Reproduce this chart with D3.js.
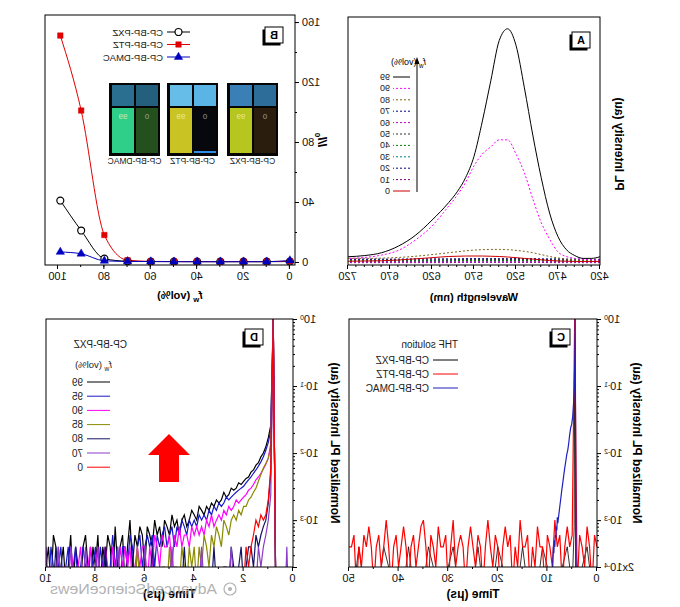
<!DOCTYPE html>
<html>
<head>
<meta charset="utf-8">
<script src="https://cdn.jsdelivr.net/npm/d3@7"></script>
<style>
  body { margin: 0; background: #fff; }
  svg { display: block; font-family: "Liberation Sans", Arial, sans-serif; }
</style>
</head>
<body>
<svg id="fig" width="680" height="607"></svg>
<script>
// ---------- panel A : PL spectra of CP-BP-PXZ in THF/water ----------
const A_WL = [420, 430, 440, 450, 460, 470, 480, 490, 500, 510, 520, 530, 540, 550, 560, 570, 580, 590, 600, 620, 640, 660, 680, 700, 720];
const A_99 = [0.035, 0.028, 0.028, 0.04, 0.065, 0.12, 0.22, 0.37, 0.55, 0.75, 0.93, 1.0, 0.95, 0.78, 0.61, 0.46, 0.37, 0.31, 0.265, 0.19, 0.125, 0.08, 0.052, 0.04, 0.035];
const A_90 = [0.021, 0.022, 0.024, 0.028, 0.036, 0.055, 0.11, 0.18, 0.28, 0.39, 0.47, 0.53, 0.53, 0.5, 0.47, 0.42, 0.35, 0.295, 0.25, 0.165, 0.105, 0.062, 0.042, 0.032, 0.028];
const A_80 = [0.02, 0.02, 0.021, 0.022, 0.025, 0.03, 0.036, 0.044, 0.052, 0.058, 0.062, 0.065, 0.066, 0.066, 0.065, 0.063, 0.06, 0.056, 0.052, 0.044, 0.037, 0.032, 0.029, 0.028, 0.028];
const A_70 = [0.024, 0.024, 0.025, 0.025, 0.025, 0.026, 0.026, 0.026, 0.027, 0.027, 0.027, 0.027, 0.027, 0.027, 0.027, 0.027, 0.027, 0.026, 0.026, 0.026, 0.026, 0.025, 0.025, 0.025, 0.025];
const A_60 = [0.012, 0.012, 0.012, 0.012, 0.012, 0.012, 0.013, 0.013, 0.013, 0.013, 0.013, 0.013, 0.013, 0.013, 0.013, 0.013, 0.013, 0.013, 0.013, 0.012, 0.012, 0.012, 0.012, 0.012, 0.012];
const A_50 = [0.022, 0.022, 0.022, 0.022, 0.022, 0.022, 0.023, 0.023, 0.023, 0.023, 0.023, 0.023, 0.023, 0.023, 0.023, 0.023, 0.023, 0.023, 0.022, 0.022, 0.022, 0.022, 0.022, 0.022, 0.022];
const A_40 = [0.018, 0.018, 0.018, 0.018, 0.018, 0.018, 0.018, 0.019, 0.019, 0.019, 0.019, 0.019, 0.019, 0.019, 0.019, 0.019, 0.019, 0.019, 0.018, 0.018, 0.018, 0.018, 0.018, 0.018, 0.018];
const A_30 = [0.02, 0.02, 0.02, 0.02, 0.02, 0.02, 0.02, 0.021, 0.021, 0.021, 0.021, 0.021, 0.021, 0.021, 0.021, 0.021, 0.021, 0.021, 0.02, 0.02, 0.02, 0.02, 0.02, 0.02, 0.02];
const A_20 = [0.016, 0.016, 0.016, 0.016, 0.016, 0.016, 0.016, 0.017, 0.017, 0.017, 0.017, 0.017, 0.017, 0.017, 0.017, 0.017, 0.017, 0.017, 0.016, 0.016, 0.016, 0.016, 0.016, 0.016, 0.016];
const A_10 = [0.01, 0.01, 0.01, 0.01, 0.01, 0.01, 0.01, 0.011, 0.011, 0.011, 0.011, 0.011, 0.011, 0.011, 0.011, 0.011, 0.011, 0.011, 0.01, 0.01, 0.01, 0.01, 0.01, 0.01, 0.01];
const A_0 = [0.015, 0.015, 0.015, 0.015, 0.016, 0.017, 0.019, 0.022, 0.025, 0.028, 0.031, 0.034, 0.036, 0.037, 0.038, 0.038, 0.038, 0.037, 0.036, 0.031, 0.026, 0.021, 0.018, 0.017, 0.016];
const A_LEGEND = ['99', '90', '80', '70', '60', '50', '40', '30', '20', '10', '0'];
const A_VALUES = { 99: A_99, 90: A_90, 80: A_80, 70: A_70, 60: A_60, 50: A_50, 40: A_40, 30: A_30, 20: A_20, 10: A_10, 0: A_0 };
const A_TICKS = [420, 470, 520, 570, 620, 670, 720];

// ---------- panel B : I/I0 versus water fraction ----------
const FW = [0, 10, 20, 30, 40, 50, 60, 70, 80, 90, 99];
const B_PXZ = [0.3, 0.2, 0.2, 0.2, 0.2, 0.3, 0.3, 0.5, 2.2, 21, 41];
const B_PTZ = [0.5, 0.3, 0.3, 0.3, 0.3, 0.3, 0.4, 1.2, 18, 101, 151];
const B_DMAC = [1.0, 0.2, 0.2, 0.2, 0.2, 0.2, 0.3, 0.4, 0.8, 5.5, 6.7];
const B_NAMES = ['CP-BP-PXZ', 'CP-BP-PTZ', 'CP-BP-DMAC'];
const B_XTICKS = [0, 20, 40, 60, 80, 100];
const B_YTICKS = [0, 40, 80, 120, 160];

// ---------- panel C : transient PL in THF (counts, 1 count = 2e-4) ----------
const COUNT_UNIT = 2e-4;
const C_DT = 0.5;
const C_PTZ = [2, 3, 0, 2, 4, 1, 2, 3, 0, 5000,
  3, 2, 4, 2, 0, 3, 2, 5, 1, 2,
  3, 0, 2, 2, 4, 1, 2, 0, 3, 2,
  2, 5, 1, 2, 0, 3, 2, 4, 2, 0,
  2, 3, 1, 2, 5, 2, 0, 2, 3, 1,
  2, 4, 2, 0, 2, 3, 2, 1, 5, 2,
  0, 3, 2, 2, 4, 1, 2, 3, 0, 2,
  5, 4, 2, 1, 3, 2, 0, 2, 4, 2,
  1, 3, 2, 0, 2, 5, 2, 1, 3, 2,
  0, 2, 4, 2, 3, 1, 2, 0, 3, 2, 2];
const C_PXZ_NOISE = [1, 0, 2, 1, 0, 0, 2, 1, 0, 0, 1, 2, 0, 1, 0, 2, 0, 1, 0, 1, 2, 0, 1, 0, 2, 0,
  1, 0, 0, 2, 1, 0, 0, 1, 2, 0, 1, 0, 2, 0, 1, 0, 1, 2, 0, 0, 1, 0, 2, 0, 1];
const C_PXZ_PEAK_T = [4.3, 4.5, 4.6];
const C_PXZ_PEAK = [0, 5000, 4];
const C_DMAC_T = [4.2, 4.4, 4.5, 4.6, 4.7, 4.9, 5.1, 5.3, 5.5, 5.7, 5.9, 6.1, 6.3, 6.5, 6.7, 6.9, 7.1, 7.3, 7.5, 7.7, 7.9, 8.0, 8.1, 8.2, 8.3, 8.4, 8.5, 8.6, 8.7, 8.8, 8.9, 9.0];
const C_DMAC = [0, 1.0, 0.2, 0.09, 0.06, 0.035, 0.027, 0.024, 0.019, 0.014, 0.011, 0.0095, 0.0075, 0.006, 0.0047, 0.0036, 0.0028, 0.0021, 0.0016, 0.0012, 0.0009, 0.0011, 0.0007, 0.0008, 0.00055, 0.0006, 0.0004, 0.0005, 0.00032, 0.0004, 0.00026, 0];
const C_NAMES = ['CP-BP-PXZ', 'CP-BP-PTZ', 'CP-BP-DMAC'];

// ---------- panel D : transient PL of CP-BP-PXZ aggregates (counts from 0.7 us, 0.1 us channels) ----------
const D_T0 = 0.7;
const D_DT = 0.1;
const D_99 = [0, 5000, 130,
  85, 62, 50, 44, 36, 33, 28, 26, 22, 21,
  19, 17, 18, 15, 14, 15, 12, 11, 13, 10,
  9, 10, 8, 9, 7, 8, 6, 7, 8, 5,
  6, 7, 5, 4, 6, 5, 3, 5, 4, 6,
  3, 4, 5, 2, 4, 3, 5, 2, 3, 4,
  1, 3, 4, 2, 3, 1, 5, 2, 0, 3,
  2, 1, 4, 0, 2, 3, 1, 2, 0, 3,
  1, 2, 0, 1, 3, 2, 0, 1, 2, 0,
  3, 1, 0, 2, 1, 0, 2, 3, 0, 2,
  1];
const D_95 = [0, 5000, 110,
  72, 55, 44, 37, 32, 28, 25, 22, 20, 18,
  16, 15, 14, 13, 12, 11, 10, 11, 9, 8,
  9, 7, 8, 6, 7, 5, 6, 5, 6, 4,
  5, 4, 5, 3, 4, 5, 3, 4, 2, 4,
  3, 2, 4, 3, 2, 3, 1, 3, 2, 3,
  2, 1, 3, 2, 0, 2, 3, 1, 2, 2,
  0, 2, 1, 3, 1, 0, 2, 1, 2, 0,
  2, 1, 2, 0, 1, 2, 1, 0, 2, 1,
  0, 2, 1, 0, 2, 1, 0, 1, 2, 0,
  1];
const D_90 = [0, 5000, 70,
  42, 34, 29, 25, 22, 20, 17, 15, 14, 12,
  11, 10, 9, 10, 8, 7, 8, 6, 7, 5,
  6, 5, 4, 6, 4, 5, 3, 4, 3, 4,
  3, 4, 2, 3, 3, 2, 4, 2, 3, 1,
  3, 2, 2, 3, 1, 2, 3, 1, 2, 0,
  2, 2, 1, 2, 1, 0, 2, 1, 2, 1,
  2, 0, 1, 2, 0, 1, 2, 1, 0, 2,
  1, 0, 2, 1, 1, 0, 2, 1, 0, 1,
  2, 0, 1, 1, 0, 2, 1, 0, 1, 1,
  0];
const D_85 = [0, 5000, 60,
  42, 35, 30, 24, 19, 15, 13, 11, 10, 8,
  8, 6, 7, 5, 6, 5, 3, 4, 5, 2,
  3, 4, 2, 3, 1, 2, 3, 1, 2, 0,
  2, 1, 2, 0, 1, 2, 0, 1, 1, 0,
  2, 0, 1, 1, 0, 1, 0, 1, 0, 1,
  0, 1, 0, 2, 0, 1, 0, 0, 1, 0,
  1, 0, 0, 1, 0, 1, 0, 0, 1, 0,
  0, 1, 0, 1, 0, 0, 1, 0, 0, 1,
  0, 0, 1, 0, 1, 0, 0, 1, 0, 0,
  1];
const D_80 = [0, 5000, 25,
  9, 5, 4, 3, 2, 3, 1, 2, 2, 1,
  0, 2, 1, 0, 1, 2, 0, 1, 1, 0,
  1, 0, 2, 0, 1, 0, 1, 0, 0, 1,
  0, 1, 0, 0, 2, 0, 1, 0, 0, 1,
  0, 0, 1, 0, 1, 0, 0, 2, 0, 0,
  1, 0, 0, 1, 0, 0, 1, 0, 1, 0,
  0, 1, 0, 0, 1, 0, 2, 0, 0, 1,
  0, 0, 1, 0, 0, 1, 0, 0, 1, 0,
  1, 0, 0, 1, 0, 0, 2, 0, 0, 1,
  0];
const D_70 = [0, 5000, 12,
  5, 3, 2, 1, 2, 0, 1, 0, 1, 0,
  1, 0, 0, 1, 0, 2, 0, 0, 1, 0,
  0, 1, 0, 0, 1, 0, 0, 2, 0, 0,
  1, 0, 0, 1, 0, 0, 1, 0, 0, 2,
  0, 0, 1, 0, 0, 1, 0, 0, 1, 0,
  2, 0, 0, 1, 0, 0, 1, 0, 0, 1,
  0, 2, 0, 0, 1, 0, 0, 1, 0, 2,
  0, 0, 1, 0, 2, 0, 0, 1, 0, 0,
  2, 0, 1, 0, 0, 2, 0, 0, 1, 0,
  2];
const D_0 = [0, 5000, 30,
  10, 6, 5, 6, 4, 5, 3, 2, 1, 2,
  0, 1, 0, 0, 1, 0, 0, 0, 1, 0,
  0, 0, 1, 0, 0, 0, 0, 1, 0, 0,
  0, 0, 0, 1, 0, 0, 0, 0, 0, 0,
  1, 0, 0, 0, 0, 0, 0, 1, 0, 0,
  0, 0, 0, 0, 1, 0, 0, 0, 0, 0,
  0, 1, 0, 0, 0, 0, 0, 0, 0, 0,
  0, 0, 0, 1, 0, 0, 0, 0, 0, 0,
  0, 0, 0, 0, 1, 0, 0, 0, 0, 0,
  0];
// a lone 70 vol% spike before the pulse
const D_70_PRE_T = [0.2, 0.25, 0.3];
const D_70_PRE = [0, 2, 0];
const D_LEGEND = ['99', '95', '90', '85', '80', '70', '0'];
const D_VALUES = { 99: D_99, 95: D_95, 90: D_90, 85: D_85, 80: D_80, 70: D_70, 0: D_0 };

// ---------- styles ----------
const A_STYLE = {
  99: ['#000000', null], 90: ['#ff00ff', '2,2'], 80: ['#7a6418', '2,2'], 70: ['#000080', '2,2'],
  60: ['#c000c0', '2,2'], 50: ['#303030', '2,2'], 40: ['#008000', '2,2'], 30: ['#008080', '2,2'],
  20: ['#000080', '2,2'], 10: ['#800080', '2,2'], 0: ['#cc0000', null],
};
const B_COLOR = ['#000000', '#e00000', '#0000c0'];
const C_COLOR = ['#000000', '#ff0000', '#2020c0'];
const D_COLOR = { 99: '#000000', 95: '#1818c8', 90: '#ff00ff', 85: '#8b8b00', 80: '#141464', 70: '#8a3cc8', 0: '#ff0000' };

const FLOOR = 1e-4; // zero counts fall below the log axis and get clipped

const svg = d3.select('#fig');
svg.append('rect').attr('width', 680).attr('height', 607).attr('fill', '#fff');

// the reference figure is mirrored left-right, so draw it normally and flip the lot
const root = svg.append('g').attr('transform', 'translate(680,0) scale(-1,1)');

const PA = { x0: 80, x1: 332, y0: 17, y1: 265 };
const PB = { x0: 385, x1: 635, y0: 15, y1: 265 };
const PC = { x0: 83, x1: 331, y0: 319, y1: 567 };
const PD = { x0: 387, x1: 634, y0: 319, y1: 567 };

const styleAxis = (g, size) => {
  g.attr('font-family', null).attr('font-size', size || 11);
  g.select('.domain').remove();
  g.selectAll('line').attr('stroke', '#000');
  g.selectAll('text').attr('fill', '#111');
};

const frame = (p) => {
  root.append('rect')
    .attr('x', p.x0).attr('y', p.y0)
    .attr('width', p.x1 - p.x0).attr('height', p.y1 - p.y0)
    .attr('fill', 'none').attr('stroke', '#000').attr('stroke-width', 1);
};

const clip = (id, p) => {
  svg.append('clipPath').attr('id', id).append('rect')
    .attr('x', p.x0).attr('y', p.y0)
    .attr('width', p.x1 - p.x0).attr('height', p.y1 - p.y0);
  return root.append('g').attr('clip-path', `url(#${id})`);
};

const labelBox = (x, y, txt) => {
  root.append('rect').attr('x', x + 2.5).attr('y', y + 2.5).attr('width', 18).attr('height', 16).attr('fill', '#000');
  root.append('rect').attr('x', x).attr('y', y).attr('width', 18).attr('height', 16)
    .attr('fill', '#fff').attr('stroke', '#000').attr('stroke-width', 1);
  root.append('text').attr('x', x + 9).attr('y', y + 12).attr('text-anchor', 'middle')
    .attr('font-size', 11).attr('font-weight', 'bold').text(txt);
};

const yTitle = (x, y, build) => {
  const t = root.append('text').attr('transform', `translate(${x},${y}) rotate(-90)`)
    .attr('text-anchor', 'middle').attr('font-size', 12).attr('font-weight', 'bold');
  build(t);
};

const fwText = (t, size) => {
  t.append('tspan').attr('font-style', 'italic').text('f');
  t.append('tspan').attr('font-size', size * 0.7).attr('dy', 3).text('w');
  t.append('tspan').attr('dy', -3).text(' (vol%)');
};

// ===================== panel A =====================
const xA = d3.scaleLinear().domain([420, 720]).range([PA.x0, PA.x1]);
const yA = d3.scaleLinear().domain([0, 1.05]).range([PA.y1, PA.y0]);

root.append('g').attr('transform', `translate(0,${PA.y1})`)
  .call(d3.axisBottom(xA).tickValues(d3.range(420, 721, 10)).tickSize(2).tickFormat(''))
  .call((g) => styleAxis(g));
root.append('g').attr('transform', `translate(0,${PA.y1})`)
  .call(d3.axisBottom(xA).tickValues(A_TICKS).tickSize(4).tickPadding(3).tickFormat(d3.format('d')))
  .call((g) => styleAxis(g));

const gA = clip('clipA', PA);
const lineA = d3.line().x((d, i) => xA(A_WL[i])).y((d) => yA(d)).curve(d3.curveMonotoneX);
['10', '20', '30', '40', '50', '60', '70', '0', '80', '90', '99'].forEach((k) => {
  gA.append('path').datum(A_VALUES[k])
    .attr('d', lineA).attr('fill', 'none')
    .attr('stroke', A_STYLE[k][0]).attr('stroke-width', 1)
    .attr('stroke-dasharray', A_STYLE[k][1]);
});
frame(PA);
labelBox(90, 32, 'A');

root.append('text').attr('x', (PA.x0 + PA.x1) / 2).attr('y', 301).attr('text-anchor', 'middle')
  .attr('font-size', 11).attr('font-weight', 'bold').text('Wavelength (nm)');
yTitle(65, 144, (t) => t.text('PL Intensity (au)'));

// legend A
const legA = root.append('g');
fwText(legA.append('text').attr('x', 254).attr('y', 65).attr('font-size', 9), 9);
A_LEGEND.forEach((k, i) => {
  const y = 77 + i * 11.4;
  legA.append('line').attr('x1', 270).attr('x2', 287).attr('y1', y).attr('y2', y)
    .attr('stroke', A_STYLE[k][0]).attr('stroke-dasharray', A_STYLE[k][1]);
  legA.append('text').attr('x', 290).attr('y', y + 3).attr('font-size', 9).attr('fill', '#222').text(k);
});
legA.append('line').attr('x1', 263).attr('x2', 263).attr('y1', 192).attr('y2', 62).attr('stroke', '#000');
legA.append('path').attr('d', 'M260.5,64 L263,57 L265.5,64 Z').attr('fill', '#000');

// ===================== panel B =====================
const xB = d3.scaleLinear().domain([-2.2, 105.6]).range([PB.x0, PB.x1]);
const yB = d3.scaleLinear().domain([-2, 164.7]).range([PB.y1, PB.y0]);

root.append('g').attr('transform', `translate(0,${PB.y1})`)
  .call(d3.axisBottom(xB).tickValues(d3.range(0, 101, 10)).tickSize(2).tickFormat(''))
  .call((g) => styleAxis(g));
root.append('g').attr('transform', `translate(0,${PB.y1})`)
  .call(d3.axisBottom(xB).tickValues(B_XTICKS).tickSize(4).tickPadding(3))
  .call((g) => styleAxis(g));
root.append('g').attr('transform', `translate(${PB.x0},0)`)
  .call(d3.axisLeft(yB).tickValues(d3.range(0, 161, 20)).tickSize(2).tickFormat(''))
  .call((g) => styleAxis(g));
root.append('g').attr('transform', `translate(${PB.x0},0)`)
  .call(d3.axisLeft(yB).tickValues(B_YTICKS).tickSize(4).tickPadding(3))
  .call((g) => styleAxis(g));

// inset photo of the vials (0 and 99 vol% water, under UV)
const VIALS = [
  { x: 402, cap: ['#2d6d9a', '#3a7fb6'], body: ['#2a1d0e', '#b7c51f'] },
  { x: 462, cap: ['#5ab4e6', '#66bde8'], body: ['#07080e', '#c9c424'] },
  { x: 520, cap: ['#24607e', '#2b6f90'], body: ['#24501e', '#2fcf8a'] },
];
const gPhoto = root.append('g');
VIALS.forEach((v, i) => {
  gPhoto.append('rect').attr('x', v.x).attr('y', 83).attr('width', 51).attr('height', 73).attr('fill', '#050505');
  [0, 1].forEach((j) => {
    const vx = v.x + 2 + j * 24;
    gPhoto.append('rect').attr('x', vx).attr('y', 85).attr('width', 22).attr('height', 21).attr('fill', v.cap[j]);
    gPhoto.append('rect').attr('x', vx).attr('y', 108).attr('width', 22).attr('height', 45).attr('fill', v.body[j]);
    gPhoto.append('text').attr('x', vx + 11).attr('y', 119).attr('text-anchor', 'middle')
      .attr('font-size', 8).attr('fill', j === 0 ? '#bbbbbb' : '#f4f4c8').attr('opacity', 0.8)
      .text(j === 0 ? '0' : '99');
  });
  gPhoto.append('text').attr('x', v.x + 25.5).attr('y', 164).attr('text-anchor', 'middle')
    .attr('font-size', 8.5).attr('fill', '#222').text(B_NAMES[i]);
});
// blue glow at the bottom of the PTZ 0 vial
gPhoto.append('rect').attr('x', 464).attr('y', 151).attr('width', 22).attr('height', 2).attr('fill', '#2f8fe8');

const gB = clip('clipB', PB);
const lineB = d3.line().x((d, i) => xB(FW[i])).y((d) => yB(d)).curve(d3.curveMonotoneX);
const B_SERIES = [B_PXZ, B_PTZ, B_DMAC];
const symbolB = [d3.symbolCircle, d3.symbolSquare, d3.symbolTriangle];
B_SERIES.forEach((vals, s) => {
  gB.append('path').datum(vals).attr('d', lineB).attr('fill', 'none')
    .attr('stroke', B_COLOR[s]).attr('stroke-width', 1);
});
B_SERIES.forEach((vals, s) => {
  gB.selectAll(null).data(vals).enter().append('path')
    .attr('transform', (d, i) => `translate(${xB(FW[i])},${yB(d)})`)
    .attr('d', d3.symbol().type(symbolB[s]).size(s === 0 ? 38 : 30))
    .attr('fill', s === 0 ? '#fff' : B_COLOR[s])
    .attr('stroke', B_COLOR[s]).attr('stroke-width', s === 0 ? 1.2 : 0.5);
});
frame(PB);
labelBox(397, 27, 'B');

const legB = root.append('g');
B_NAMES.forEach((name, s) => {
  const y = 32 + s * 12.5;
  legB.append('line').attr('x1', 490).attr('x2', 513).attr('y1', y).attr('y2', y).attr('stroke', B_COLOR[s]);
  legB.append('path').attr('transform', `translate(501.5,${y})`)
    .attr('d', d3.symbol().type(symbolB[s]).size(s === 0 ? 38 : 30))
    .attr('fill', s === 0 ? '#fff' : B_COLOR[s]).attr('stroke', B_COLOR[s]).attr('stroke-width', s === 0 ? 1.2 : 0.5);
  legB.append('text').attr('x', 517).attr('y', y + 3.5).attr('font-size', 9.5).attr('fill', '#222').text(name);
});

fwText(root.append('text').attr('x', 500).attr('y', 299).attr('text-anchor', 'middle')
  .attr('font-size', 11).attr('font-weight', 'bold'), 11);
yTitle(362, 140, (t) => {
  t.append('tspan').attr('font-style', 'italic').text('I/I');
  t.append('tspan').attr('font-size', 8).attr('dy', 3).text('0');
});

// ===================== log axis helpers =====================
const LOG_MAJOR = [2e-4, 1e-3, 1e-2, 1e-1, 1];
const LOG_MINOR = [];
[1e-4, 1e-3, 1e-2, 1e-1].forEach((dec) => {
  [2, 3, 4, 5, 6, 7, 8, 9].forEach((m) => {
    const v = dec * m;
    if (v > 2.01e-4 && v < 1) LOG_MINOR.push(v);
  });
});

const supLabels = (g, withBottom) => {
  g.selectAll('.tick text').each(function (d) {
    const t = d3.select(this).text('');
    const e = Math.round(Math.log10(d));
    const m = d / (10 ** e);
    if (Math.abs(m - 1) > 1e-6) {
      if (!withBottom) { t.remove(); return; }
      t.append('tspan').text(`${Math.round(m)}x10`);
    } else {
      t.append('tspan').text('10');
    }
    t.append('tspan').attr('font-size', 7).attr('dy', '-0.5em').text(`${e}`);
  });
};

const logAxes = (p, x, y, majorX, minorX, withBottom) => {
  root.append('g').attr('transform', `translate(0,${p.y1})`)
    .call(d3.axisBottom(x).tickValues(minorX).tickSize(2).tickFormat(''))
    .call((g) => styleAxis(g));
  root.append('g').attr('transform', `translate(0,${p.y1})`)
    .call(d3.axisBottom(x).tickValues(majorX).tickSize(4).tickPadding(3))
    .call((g) => styleAxis(g));
  root.append('g').attr('transform', `translate(${p.x0},0)`)
    .call(d3.axisLeft(y).tickValues(LOG_MINOR).tickSize(2).tickFormat(''))
    .call((g) => styleAxis(g));
  root.append('g').attr('transform', `translate(${p.x0},0)`)
    .call(d3.axisLeft(y).tickValues(LOG_MAJOR).tickSize(4).tickPadding(3))
    .call((g) => styleAxis(g))
    .call((g) => supLabels(g, withBottom));
};

const toVal = (c) => (c > 0 ? c * COUNT_UNIT : FLOOR);

// ===================== panel C =====================
const xC = d3.scaleLinear().domain([0, 50]).range([PC.x0, PC.x1]);
const yC = d3.scaleLog().domain([2e-4, 1]).range([PC.y1, PC.y0]);
logAxes(PC, xC, yC, [0, 10, 20, 30, 40, 50], [5, 15, 25, 35, 45], true);

const gC = clip('clipC', PC);
const lineC = d3.line().x((d) => xC(d[0])).y((d) => yC(d[1]));
const cPXZ = C_PXZ_NOISE.map((c, i) => [i, toVal(c)])
  .concat(C_PXZ_PEAK_T.map((t, i) => [t, toVal(C_PXZ_PEAK[i])]))
  .sort((a, b) => a[0] - b[0]);
const cPTZ = C_PTZ.map((c, i) => [i * C_DT, toVal(c)]);
const cDMAC = C_DMAC_T.map((t, i) => [t, C_DMAC[i] > 0 ? C_DMAC[i] : FLOOR]);
[cPXZ, cPTZ, cDMAC].forEach((pts, s) => {
  gC.append('path').datum(pts).attr('d', lineC).attr('fill', 'none')
    .attr('stroke', C_COLOR[s]).attr('stroke-width', s === 0 ? 0.8 : 1.2);
});
frame(PC);
labelBox(110, 329, 'C');

const legC = root.append('g');
legC.append('text').attr('x', 222).attr('y', 348).attr('font-size', 10).attr('fill', '#222').text('THF solution');
C_NAMES.forEach((name, s) => {
  const y = 360 + s * 14;
  legC.append('line').attr('x1', 222).attr('x2', 247).attr('y1', y).attr('y2', y).attr('stroke', C_COLOR[s]);
  legC.append('text').attr('x', 251).attr('y', y + 3.5).attr('font-size', 10).attr('fill', '#222').text(name);
});

root.append('text').attr('x', (PC.x0 + PC.x1) / 2).attr('y', 598).attr('text-anchor', 'middle')
  .attr('font-size', 12).attr('font-weight', 'bold').text('Time (\u03bcs)');
yTitle(47, 443, (t) => t.text('Normalized PL Intensity (au)'));

// ===================== panel D =====================
const xD = d3.scaleLinear().domain([0, 10]).range([PD.x0, PD.x1]);
const yD = d3.scaleLog().domain([2e-4, 1]).range([PD.y1, PD.y0]);
logAxes(PD, xD, yD, [0, 2, 4, 6, 8, 10], [1, 3, 5, 7, 9], false);

const gD = clip('clipD', PD);
const lineD = d3.line().x((d, i) => xD(D_T0 + i * D_DT)).y((d) => yD(toVal(d)));
D_LEGEND.forEach((k) => {
  gD.append('path').datum(D_VALUES[k]).attr('d', lineD).attr('fill', 'none')
    .attr('stroke', D_COLOR[k]).attr('stroke-width', 1.2);
});
gD.append('path')
  .datum(D_70_PRE_T.map((t, i) => [t, toVal(D_70_PRE[i])]))
  .attr('d', d3.line().x((d) => xD(d[0])).y((d) => yD(d[1])))
  .attr('fill', 'none').attr('stroke', D_COLOR[70]).attr('stroke-width', 1.2);
frame(PD);
labelBox(417, 329, 'D');

const legD = root.append('g');
legD.append('text').attr('x', 553).attr('y', 348).attr('font-size', 10).attr('fill', '#222').text('CP-BP-PXZ');
fwText(legD.append('text').attr('x', 568).attr('y', 368).attr('font-size', 9.5).attr('fill', '#222'), 9.5);
D_LEGEND.forEach((k, i) => {
  const y = 382 + i * 14.2;
  legD.append('line').attr('x1', 570).attr('x2', 593).attr('y1', y).attr('y2', y).attr('stroke', D_COLOR[k]);
  legD.append('text').attr('x', 597).attr('y', y + 3.5).attr('font-size', 10).attr('fill', '#222').text(k);
});

// big red arrow (intensity grows with water fraction)
root.append('path').attr('d', 'M490,455 L511,434 L532,455 L521,455 L521,482 L501,482 L501,455 Z').attr('fill', '#ff0000');

root.append('text').attr('x', (PD.x0 + PD.x1) / 2).attr('y', 598).attr('text-anchor', 'middle')
  .attr('font-size', 12).attr('font-weight', 'bold').text('Time (\u03bcs)');
yTitle(349, 443, (t) => t.text('Normalized PL Intensity (au)'));

// watermark
const wm = root.append('g').attr('opacity', 0.75);
wm.append('circle').attr('cx', 450).attr('cy', 589).attr('r', 6).attr('fill', 'none').attr('stroke', '#999').attr('stroke-width', 1.2);
wm.append('circle').attr('cx', 450).attr('cy', 589).attr('r', 2).attr('fill', '#999');
wm.append('text').attr('x', 463).attr('y', 594).attr('font-size', 15).attr('fill', '#999')
  .attr('textLength', 167).attr('lengthAdjust', 'spacingAndGlyphs').text('AdvancedScienceNews');
</script>
</body>
</html>
